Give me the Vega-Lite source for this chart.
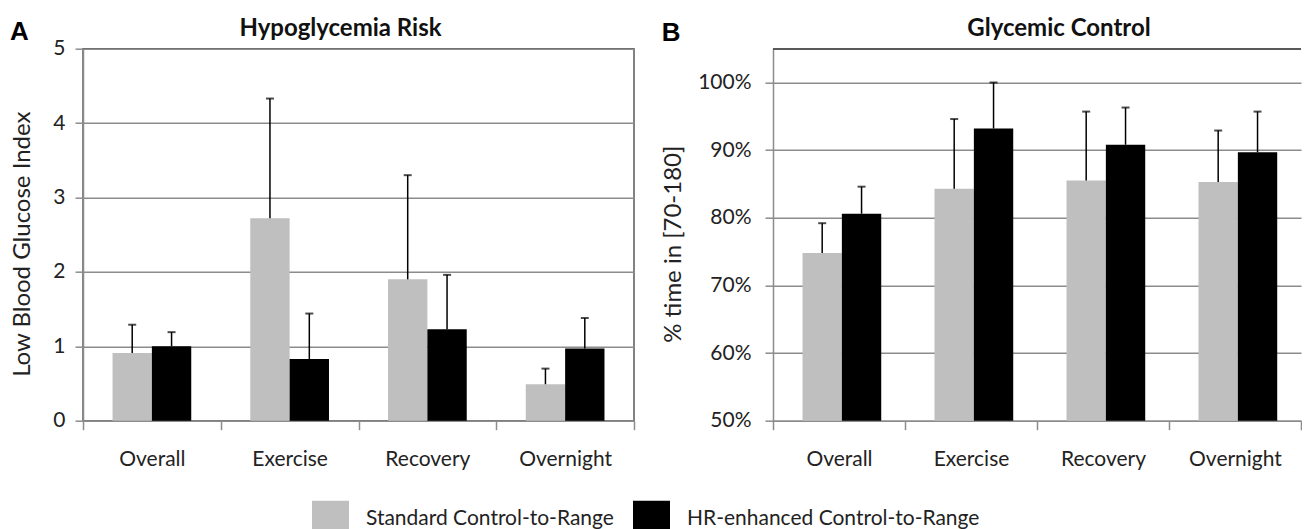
{
  "$schema": "https://vega.github.io/schema/vega-lite/v6.json",
  "background": "white",
  "padding": {"left": 10, "top": 15.7, "right": 0, "bottom": 0},
  "spacing": 25,
  "config": {
    "font": "Lato",
    "view": {"stroke": "#595959", "strokeWidth": 1.5},
    "axis": {
      "labelFont": "Lato", "labelFontSize": 21, "labelColor": "#222222",
      "titleFont": "Lato", "titleFontSize": 24, "titleFontWeight": "normal", "titleColor": "#222222",
      "domainColor": "#8c8c8c", "domainWidth": 1.5,
      "tickColor": "#8c8c8c", "tickWidth": 1.5, "tickSize": 8,
      "gridColor": "#8c8c8c", "gridWidth": 1.5
    },
    "title": {"font": "Lato", "fontSize": 24, "fontWeight": "bold", "color": "#111111"}
  },
  "datasets": {
    "hypo": [
      {"Period": "Overall", "Controller": "Standard Control-to-Range", "Value": 0.91, "Upper": 1.29},
      {"Period": "Overall", "Controller": "HR-enhanced Control-to-Range", "Value": 1.00, "Upper": 1.19},
      {"Period": "Exercise", "Controller": "Standard Control-to-Range", "Value": 2.72, "Upper": 4.33},
      {"Period": "Exercise", "Controller": "HR-enhanced Control-to-Range", "Value": 0.83, "Upper": 1.44},
      {"Period": "Recovery", "Controller": "Standard Control-to-Range", "Value": 1.90, "Upper": 3.30},
      {"Period": "Recovery", "Controller": "HR-enhanced Control-to-Range", "Value": 1.23, "Upper": 1.96},
      {"Period": "Overnight", "Controller": "Standard Control-to-Range", "Value": 0.49, "Upper": 0.70},
      {"Period": "Overnight", "Controller": "HR-enhanced Control-to-Range", "Value": 0.97, "Upper": 1.38}
    ],
    "gly": [
      {"Period": "Overall", "Controller": "Standard Control-to-Range", "Value": 0.748, "Upper": 0.792},
      {"Period": "Overall", "Controller": "HR-enhanced Control-to-Range", "Value": 0.806, "Upper": 0.846},
      {"Period": "Exercise", "Controller": "Standard Control-to-Range", "Value": 0.843, "Upper": 0.946},
      {"Period": "Exercise", "Controller": "HR-enhanced Control-to-Range", "Value": 0.932, "Upper": 1.0},
      {"Period": "Recovery", "Controller": "Standard Control-to-Range", "Value": 0.855, "Upper": 0.957},
      {"Period": "Recovery", "Controller": "HR-enhanced Control-to-Range", "Value": 0.908, "Upper": 0.963},
      {"Period": "Overnight", "Controller": "Standard Control-to-Range", "Value": 0.853, "Upper": 0.929},
      {"Period": "Overnight", "Controller": "HR-enhanced Control-to-Range", "Value": 0.897, "Upper": 0.957}
    ]
  },
  "hconcat": [
    {
      "title": {"text": "A", "font": "Liberation Sans", "fontSize": 26, "fontWeight": "bold", "anchor": "start", "frame": "bounds", "dy": 32.3, "color": "#000000"},
      "vconcat": [
        {
          "width": 551,
          "height": 372,
          "title": {"text": "Hypoglycemia Risk", "dx": -18, "offset": -3.5},
          "data": {"name": "hypo"},
          "layer": [
            {
              "mark": {"type": "bar"},
              "encoding": {
                "x": {"field": "Period", "type": "nominal", "sort": ["Overall", "Exercise", "Recovery", "Overnight"],
                      "scale": {"paddingInner": 0, "paddingOuter": 0},
                      "axis": {"title": null, "labelAngle": 0, "tickBand": "extent", "tickSize": 9, "labelPadding": 19}},
                "xOffset": {"field": "Controller", "sort": ["Standard Control-to-Range", "HR-enhanced Control-to-Range"],
                            "scale": {"paddingInner": 0, "paddingOuter": 0.75}},
                "y": {"field": "Value", "type": "quantitative", "title": "Low Blood Glucose Index",
                      "scale": {"domain": [0, 5], "nice": false},
                      "axis": {"values": [0, 1, 2, 3, 4, 5], "format": "d", "grid": true, "labelPadding": 10, "titlePadding": 18, "titleY": 195}},
                "color": {"field": "Controller", "type": "nominal",
                          "scale": {"domain": ["Standard Control-to-Range", "HR-enhanced Control-to-Range"], "range": ["#bfbfbf", "#000000"]},
                          "legend": {"orient": "none", "legendX": 229, "legendY": 452, "direction": "horizontal", "title": null,
                                     "symbolType": "square", "symbolSize": 1369, "symbolStrokeWidth": 0, "symbolOpacity": 1,
                                     "labelFont": "Lato", "labelFontSize": 21, "labelColor": "#222222", "labelOffset": 17,
                                     "columnPadding": 18, "labelLimit": 400}}
              }
            },
            {
              "mark": {"type": "rule", "color": "#000000", "strokeWidth": 1.5},
              "encoding": {
                "x": {"field": "Period", "type": "nominal", "sort": ["Overall", "Exercise", "Recovery", "Overnight"]},
                "xOffset": {"field": "Controller", "sort": ["Standard Control-to-Range", "HR-enhanced Control-to-Range"]},
                "y": {"field": "Value", "type": "quantitative", "title": "Low Blood Glucose Index"},
                "y2": {"field": "Upper"}
              }
            },
            {
              "mark": {"type": "tick", "color": "#000000", "thickness": 2, "size": 8},
              "encoding": {
                "x": {"field": "Period", "type": "nominal", "sort": ["Overall", "Exercise", "Recovery", "Overnight"]},
                "xOffset": {"field": "Controller", "sort": ["Standard Control-to-Range", "HR-enhanced Control-to-Range"]},
                "y": {"field": "Upper", "type": "quantitative", "title": "Low Blood Glucose Index"}
              }
            }
          ]
        }
      ]
    },
    {
      "title": {"text": "B", "font": "Liberation Sans", "fontSize": 26, "fontWeight": "bold", "anchor": "start", "frame": "bounds", "dy": 32.3, "color": "#000000"},
      "vconcat": [
        {
          "width": 528,
          "height": 372,
          "title": {"text": "Glycemic Control", "dx": 22, "offset": 6.5},
          "view": {"stroke": null},
          "data": {"name": "gly"},
          "layer": [
            {
              "mark": {"type": "bar"},
              "encoding": {
                "x": {"field": "Period", "type": "nominal", "sort": ["Overall", "Exercise", "Recovery", "Overnight"],
                      "scale": {"paddingInner": 0, "paddingOuter": 0},
                      "axis": {"title": null, "labelAngle": 0, "tickBand": "extent", "tickSize": 9, "labelPadding": 19}},
                "xOffset": {"field": "Controller", "sort": ["Standard Control-to-Range", "HR-enhanced Control-to-Range"],
                            "scale": {"paddingInner": 0, "paddingOuter": 0.75}},
                "y": {"field": "Value", "type": "quantitative", "title": "% time in [70-180]",
                      "scale": {"domain": [0.5, 1.05], "nice": false, "zero": false},
                      "axis": {"values": [0.5, 0.6, 0.7, 0.8, 0.9, 1.0], "format": ".0%", "grid": true, "labelPadding": 14, "titlePadding": 12, "titleY": 195}},
                "y2": {"datum": 0.5},
                "color": {"field": "Controller", "type": "nominal",
                          "scale": {"domain": ["Standard Control-to-Range", "HR-enhanced Control-to-Range"], "range": ["#bfbfbf", "#000000"]}}
              }
            },
            {
              "mark": {"type": "rule", "color": "#000000", "strokeWidth": 1.5},
              "encoding": {
                "x": {"field": "Period", "type": "nominal", "sort": ["Overall", "Exercise", "Recovery", "Overnight"]},
                "xOffset": {"field": "Controller", "sort": ["Standard Control-to-Range", "HR-enhanced Control-to-Range"]},
                "y": {"field": "Value", "type": "quantitative", "title": "% time in [70-180]"},
                "y2": {"field": "Upper"}
              }
            },
            {
              "mark": {"type": "tick", "color": "#000000", "thickness": 2, "size": 8},
              "encoding": {
                "x": {"field": "Period", "type": "nominal", "sort": ["Overall", "Exercise", "Recovery", "Overnight"]},
                "xOffset": {"field": "Controller", "sort": ["Standard Control-to-Range", "HR-enhanced Control-to-Range"]},
                "y": {"field": "Upper", "type": "quantitative", "title": "% time in [70-180]"}
              }
            },
            {
              "mark": {"type": "rule", "color": "#595959", "strokeWidth": 1.5},
              "encoding": {"y": {"datum": 1.05, "type": "quantitative"}}
            }
          ]
        }
      ]
    }
  ]
}
